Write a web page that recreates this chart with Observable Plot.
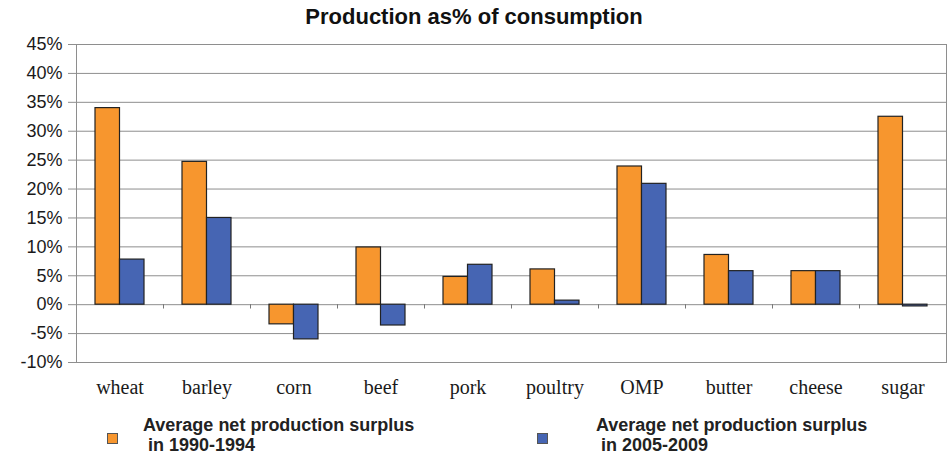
<!DOCTYPE html>
<html>
<head>
<meta charset="utf-8">
<script src="https://cdn.jsdelivr.net/npm/d3@7"></script>
<script src="https://cdn.jsdelivr.net/npm/@observablehq/plot@0.6"></script>
<style>
  html, body { margin: 0; padding: 0; background: #fff; }
  #wrap { position: relative; width: 948px; height: 466px; overflow: hidden; font-family: "Liberation Sans", Arial, sans-serif; }
  #title { position: absolute; left: 0; top: 0; width: 948px; height: 34px; line-height: 34px; text-align: center; font-weight: bold; font-size: 22px; color: #111; }
  #chart { position: absolute; left: 0; top: 34px; }
  .leg { position: absolute; font-weight: bold; font-size: 18px; line-height: 20px; color: #222; white-space: pre; }
  .sw { position: absolute; width: 9px; height: 9px; border: 1px solid #555; }
</style>
</head>
<body>
<div id="wrap">
  <div id="title"></div>
  <div id="chart"></div>
  <div class="sw" id="sw0" style="left:107px; top:433px;"></div>
  <div class="leg" id="lg0" style="left:143px; top:415px;"></div>
  <div class="sw" id="sw1" style="left:537px; top:433px;"></div>
  <div class="leg" id="lg1" style="left:596px; top:415px;"></div>
</div>
<script>
const title = "Production as% of consumption";
const categories = ["wheat", "barley", "corn", "beef", "pork", "poultry", "OMP", "butter", "cheese", "sugar"];
const series = ["Average net production surplus\n in 1990-1994", "Average net production surplus\n in 2005-2009"];
const values1990 = [34, 24.7, -3.4, 9.9, 4.8, 6.1, 23.9, 8.6, 5.8, 32.5];
const values2005 = [7.8, 15, -6, -3.6, 6.9, 0.7, 20.9, 5.8, 5.8, -0.3];
const yTicks = [-10, -5, 0, 5, 10, 15, 20, 25, 30, 35, 40, 45];
const colors = ["#F7962E", "#4665B3"];

const d1 = categories.map((c, i) => ({category: c, value: values1990[i]}));
const d2 = categories.map((c, i) => ({category: c, value: values2005[i]}));

document.getElementById("title").textContent = title;
document.getElementById("lg0").textContent = series[0];
document.getElementById("lg1").textContent = series[1];
document.getElementById("sw0").style.background = colors[0];
document.getElementById("sw1").style.background = colors[1];

const chart = Plot.plot({
  width: 948,
  height: 375,
  marginLeft: 76,
  marginRight: 2,
  marginTop: 10,
  marginBottom: 47,
  style: {fontFamily: "'Liberation Sans', Arial, sans-serif", background: "transparent", color: "#222"},
  x: {domain: categories, padding: 0, axis: null},
  y: {domain: [-10, 45], axis: null},
  marks: [
    Plot.ruleY(yTicks, {stroke: "#8e8e8e", strokeWidth: 1}),
    Plot.frame({stroke: "#8e8e8e", strokeWidth: 1}),
    Plot.ruleX(categories.slice(1), {x: d => d, y1: 0, y2: -0.75, dx: -43.5, stroke: "#777"}),
    Plot.barY(d1, {x: "category", y: "value", fill: colors[0], stroke: "#222", strokeWidth: 1.2, insetLeft: 19, insetRight: 43.5}),
    Plot.barY(d2, {x: "category", y: "value", fill: colors[1], stroke: "#222", strokeWidth: 1.2, insetLeft: 43.5, insetRight: 19}),
    Plot.axisY({ticks: yTicks, tickFormat: d => d + "%", tickSize: 8, tickPadding: 6, stroke: "#8e8e8e", fontSize: 18, fill: "#1a1a1a", label: null, letterSpacing: 0.8}),
    Plot.axisX({tickSize: 0, tickPadding: 17, fontSize: 20, fontFamily: "'Liberation Serif', 'Times New Roman', serif", fill: "#1a1a1a", label: null})
  ]
});
document.getElementById("chart").appendChild(chart);
</script>
</body>
</html>
